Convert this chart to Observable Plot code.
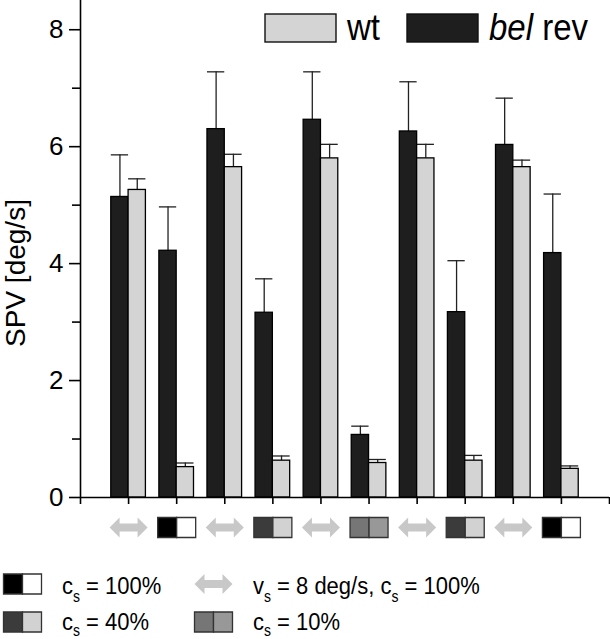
<!DOCTYPE html>
<html>
<head>
<meta charset="utf-8">
<script src="https://cdn.jsdelivr.net/npm/d3@7"></script>
<script src="https://cdn.jsdelivr.net/npm/@observablehq/plot@0.6"></script>
<style>
  html, body { margin: 0; padding: 0; background: #fff; }
  body { font-family: "Liberation Sans", Arial, Helvetica, sans-serif; }
  #wrap { position: relative; width: 610px; height: 639px; overflow: hidden; }
  #wrap > svg { display: block; }
  #overlay { position: absolute; left: 0; top: 0; pointer-events: none; }
</style>
</head>
<body>
<div id="wrap"></div>
<script>
// ---- data ----
const conditions = ["motion", "c100", "motion", "c40", "motion", "c10", "motion", "c40", "motion", "c100"];
const seriesNames = ["bel rev", "wt"];
const belRev   = [5.14, 4.22, 6.30, 3.16, 6.46, 1.07, 6.26, 3.17, 6.03, 4.18];
const belRevSE = [0.72, 0.75, 0.98, 0.58, 0.82, 0.15, 0.85, 0.88, 0.80, 1.01];
const wt       = [5.26, 0.52, 5.65, 0.63, 5.80, 0.59, 5.80, 0.63, 5.65, 0.49];
const wtSE     = [0.19, 0.07, 0.22, 0.08, 0.24, 0.06, 0.24, 0.09, 0.12, 0.05];
const yTicks = [0, 2, 4, 6, 8];
const yMinorTicks = [1, 3, 5, 7];
const legendLabels = {
  c100: ["c", "s", " = 100%"],
  c40: ["c", "s", " = 40%"],
  c10: ["c", "s", " = 10%"],
  motion: ["v", "s", " = 8 deg/s, c", "s", " = 100%"]
};

(function () {
// ---- styles ----
const DARK = "#1e1e1e", LIGHT = "#d4d4d4", ARROW = "#c8c8c8";
const boxColors = {
  c100: ["#000000", "#ffffff"],
  c40: ["#3b3b3b", "#d2d2d2"],
  c10: ["#767676", "#989898"]
};
const FONT = '"Liberation Sans", Arial, Helvetica, sans-serif';

// ---- build table ----
const rows = [];
conditions.forEach((c, i) => {
  rows.push({g: i + 1, s: seriesNames[0], v: belRev[i], e: belRevSE[i]});
  rows.push({g: i + 1, s: seriesNames[1], v: wt[i], e: wtSE[i]});
});
const BW = 0.36; // bar width (x units)
const bx1 = d => d.g - (d.s === "bel rev" ? BW : 0);
const bx2 = d => bx1(d) + BW;
const bxc = d => bx1(d) + BW / 2;
const errTop = d => d.v + d.e;

const icons = conditions.map((c, i) => ({g: i + 1, c}));
const boxIcons = icons.filter(d => d.c !== "motion");
const arrowIcons = icons.filter(d => d.c === "motion");

// custom symbols (pixel shapes)
const leftHalf = {draw(ctx) { ctx.moveTo(-19, -10); ctx.lineTo(0, -10); ctx.lineTo(0, 10); ctx.lineTo(-19, 10); ctx.closePath(); }};
const rightHalf = {draw(ctx) { ctx.moveTo(0, -10); ctx.lineTo(19, -10); ctx.lineTo(19, 10); ctx.lineTo(0, 10); ctx.closePath(); }};
const dblArrow = {draw(ctx) {
  ctx.moveTo(-19, 0); ctx.lineTo(-9, -10); ctx.lineTo(-9, -4); ctx.lineTo(9, -4); ctx.lineTo(9, -10);
  ctx.lineTo(19, 0); ctx.lineTo(9, 10); ctx.lineTo(9, 4); ctx.lineTo(-9, 4); ctx.lineTo(-9, 10); ctx.closePath();
}};

const chart = Plot.plot({
  width: 610,
  height: 550,
  marginLeft: 80,
  marginRight: 1,
  marginTop: 0,
  marginBottom: 53,
  style: {fontFamily: FONT, fontSize: "26px", color: "#000", background: "#fff"},
  x: {type: "linear", domain: [0, 11], axis: null},
  y: {domain: [0, 8.5], axis: null},
  color: {type: "identity"},
  marks: [
    // error bars (upper only)
    Plot.ruleX(rows, {x: bxc, y1: d => d.v, y2: errTop, stroke: "#222", strokeWidth: 1.3}),
    Plot.ruleY(rows, {y: errTop, x1: bx1, x2: bx2, stroke: "#222", strokeWidth: 1.3}),
    // bars
    Plot.rectY(rows.filter(d => d.s === "bel rev"), {x1: bx1, x2: bx2, y: "v", fill: DARK, stroke: "#000", strokeWidth: 1.3}),
    Plot.rectY(rows.filter(d => d.s === "wt"), {x1: bx1, x2: bx2, y: "v", fill: LIGHT, stroke: "#000", strokeWidth: 1.3}),
    // axes
    Plot.ruleY([0], {stroke: "#000", strokeWidth: 1.6}),
    Plot.ruleX([0], {stroke: "#000", strokeWidth: 1.6}),
    Plot.axisY({ticks: yTicks, tickSize: 11, tickPadding: 6, strokeWidth: 1.6, label: null, fontSize: 26}),
    Plot.axisY({ticks: yMinorTicks, tickSize: 8, text: null, strokeWidth: 1.6, label: null}),
    Plot.axisX({ticks: d3.range(0, 12), tickSize: 7, text: null, strokeWidth: 1.6, label: null}),
    // y label
    Plot.text(["SPV [deg/s]"], {frameAnchor: "left", text: d => d, rotate: -90, dx: -64, dy: 24, fontSize: 28, textAnchor: "middle", fill: "#000"}),
    // stimulus icons under the x axis
    Plot.dot(boxIcons, {x: "g", frameAnchor: "bottom", dy: 30, symbol: leftHalf, fill: d => boxColors[d.c][0], stroke: "#333", strokeWidth: 1.3}),
    Plot.dot(boxIcons, {x: "g", frameAnchor: "bottom", dy: 30, symbol: rightHalf, fill: d => boxColors[d.c][1], stroke: "#333", strokeWidth: 1.3}),
    Plot.dot(arrowIcons, {x: "g", frameAnchor: "bottom", dy: 30, symbol: dblArrow, fill: ARROW, stroke: "none"})
  ]
});

const wrap = document.getElementById("wrap");
wrap.appendChild(chart);

// ---- legends (overlay) ----
const ov = d3.select(wrap).append("svg")
  .attr("id", "overlay").attr("width", 610).attr("height", 639)
  .style("font-family", FONT);

// top legend: series
const topLegend = [
  {s: seriesNames[1], x: 265, fill: LIGHT},
  {s: seriesNames[0], x: 407, fill: DARK}
];
topLegend.forEach(d => {
  ov.append("rect").attr("x", d.x).attr("y", 14).attr("width", 71).attr("height", 28)
    .attr("fill", d.fill).attr("stroke", "#111").attr("stroke-width", 1.4);
  const t = ov.append("text").attr("transform", `translate(${d.x + 82},40) scale(1,1.1)`)
    .attr("font-size", 33).attr("fill", "#000");
  if (d.s === "bel rev") {
    t.append("tspan").attr("font-style", "italic").text("bel");
    t.append("tspan").text(" rev");
  } else {
    t.text(d.s);
  }
});

// bottom legend: stimulus conditions
const bottomLegend = [
  {c: "c100", x: 3, y: 574, base: 594, sub: 7},
  {c: "motion", x: 194, y: 574, base: 594, sub: 7},
  {c: "c40", x: 3, y: 612, base: 630, sub: 5.5},
  {c: "c10", x: 194, y: 612, base: 630, sub: 5.5}
];
bottomLegend.forEach(d => {
  const g = ov.append("g").attr("transform", `translate(${d.x + 19.5},${d.y + 10})`);
  if (d.c === "motion") {
    g.append("path").attr("d", d3.symbol(dblArrow)()).attr("fill", ARROW);
  } else {
    g.append("path").attr("d", d3.symbol(leftHalf)()).attr("fill", boxColors[d.c][0]).attr("stroke", "#333").attr("stroke-width", 1.3);
    g.append("path").attr("d", d3.symbol(rightHalf)()).attr("fill", boxColors[d.c][1]).attr("stroke", "#333").attr("stroke-width", 1.3);
  }
  const t = ov.append("text").attr("transform", `translate(${d.x + 59},${d.base}) scale(1,1.12)`)
    .attr("font-size", 22).attr("fill", "#000");
  const parts = legendLabels[d.c];
  parts.forEach((p, i) => {
    if (p === "s") {
      t.append("tspan").attr("font-size", 14).attr("dy", d.sub).text(p);
    } else {
      const ts = t.append("tspan").text(p);
      if (i > 0) ts.attr("dy", -d.sub);
    }
  });
});
})();
</script>
</body>
</html>
